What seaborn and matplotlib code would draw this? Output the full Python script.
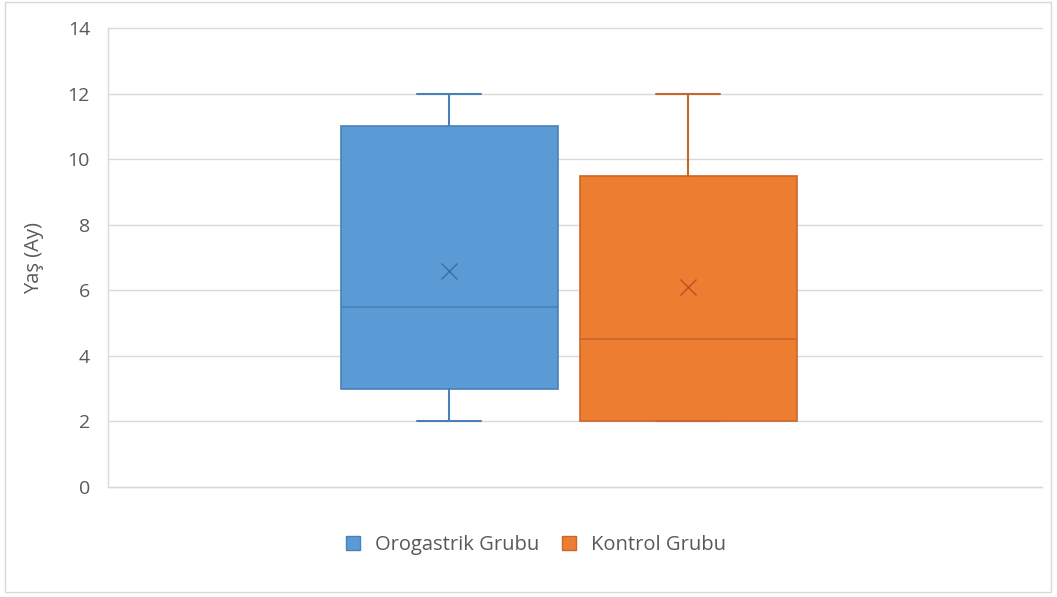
import matplotlib
matplotlib.use("Agg")
import matplotlib.pyplot as plt
import matplotlib.patches as mpatches
import seaborn as sns

# ---- data ----
groups = ["Orogastrik Grubu", "Kontrol Grubu"]
whisker_low = [2, 2]
q1 = [3, 2]
median = [5.5, 4.5]
q3 = [11, 9.5]
whisker_high = [12, 12]
mean = [6.6, 6.1]
y_ticks = [0, 2, 4, 6, 8, 10, 12, 14]
y_label = "Yaş (Ay)"

fill_colors = ["#5B9BD5", "#ED7D31"]
edge_colors = ["#4A80B8", "#C9672A"]
mean_colors = ["#3F6E9E", "#B0561F"]

sns.set_theme(style="whitegrid")
plt.rcParams["font.family"] = ["Open Sans", "DejaVu Sans"]

fig = plt.figure(figsize=(10.57, 5.97), dpi=100)
ax = fig.add_axes([108 / 1057, 1 - 487 / 597, (1042 - 108) / 1057, (487 - 28) / 597])

# outer chart border
fig.patches.append(mpatches.Rectangle((5 / 1057, 1 - 592 / 597), 1046 / 1057, 590 / 597,
                                      transform=fig.transFigure, fill=False,
                                      edgecolor="#D9D9D9", linewidth=1.0))

positions = [0, 1]
for i, g in enumerate(groups):
    stats = [{
        "label": g,
        "whislo": whisker_low[i],
        "q1": q1[i],
        "med": median[i],
        "q3": q3[i],
        "whishi": whisker_high[i],
        "mean": mean[i],
        "fliers": [],
    }]
    ax.bxp(stats, positions=[positions[i]], widths=0.908, capwidths=0.27,
           showmeans=True, meanline=False, patch_artist=True, manage_ticks=False,
           boxprops=dict(facecolor=fill_colors[i], edgecolor=edge_colors[i], linewidth=1.2),
           medianprops=dict(color=edge_colors[i], linewidth=1.2),
           whiskerprops=dict(color=edge_colors[i], linewidth=1.5),
           capprops=dict(color=edge_colors[i], linewidth=1.5),
           meanprops=dict(marker="x", markersize=11, markeredgecolor=mean_colors[i],
                          markeredgewidth=1.0, linestyle="none"),
           zorder=3)

ax.set_xlim(-1.427, 2.481)
ax.set_ylim(0, 14)
ax.set_yticks(y_ticks)
ax.set_xticks([])
ax.tick_params(axis="y", labelsize=14, labelcolor="#595959", length=0, pad=13)
ax.set_ylabel(y_label, fontsize=14.5, color="#595959")
ax.yaxis.set_label_coords((44 - 108) / 934, 0.5)
ax.grid(axis="y", color="#D9D9D9", linewidth=1.0)
ax.grid(axis="x", visible=False)
for gl in ax.get_ygridlines():
    gl.set_clip_on(False)
ax.axhline(0, color="#D9D9D9", linewidth=1.0, clip_on=False, zorder=0.5)
for s in ["top", "right", "bottom"]:
    ax.spines[s].set_visible(False)
ax.spines["left"].set_color("#D9D9D9")
ax.spines["left"].set_linewidth(1.0)
ax.set_facecolor("white")

handles = [mpatches.Patch(facecolor=fill_colors[i], edgecolor=edge_colors[i], label=groups[i])
           for i in range(len(groups))]
fig.legend(handles=handles, loc="center", bbox_to_anchor=(536 / 1057, 1 - 545 / 597),
           ncol=2, frameon=False, fontsize=14.5, labelcolor="#595959",
           handlelength=0.72, handleheight=0.72, handletextpad=0.75, columnspacing=1.1)

fig.savefig("out.png", dpi=100, facecolor="white")
